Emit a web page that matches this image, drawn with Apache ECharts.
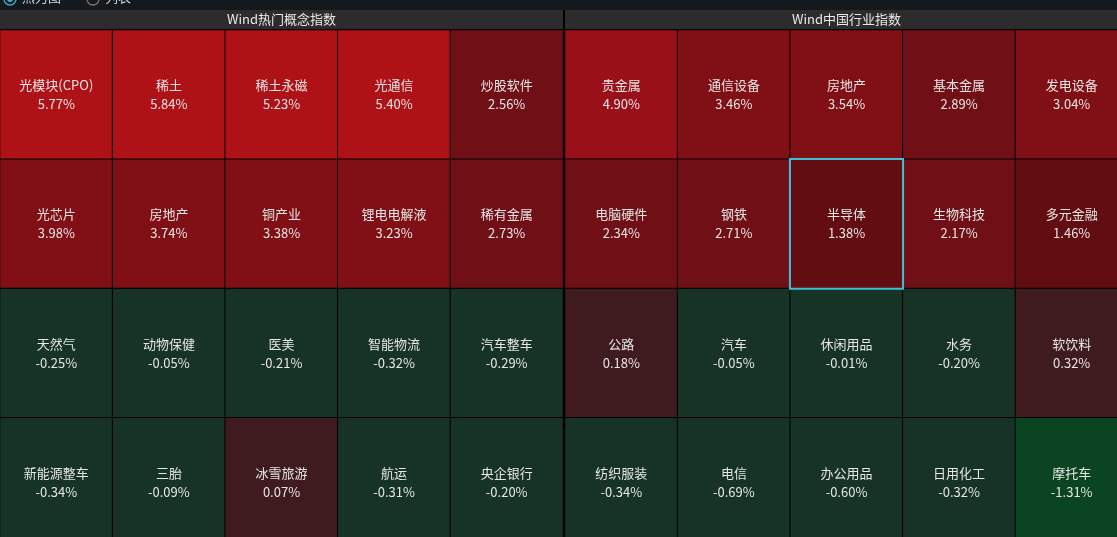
<!DOCTYPE html>
<html>
<head>
<meta charset="utf-8">
<style>
html,body{margin:0;padding:0;background:#000;overflow:hidden;width:1117px;height:537px;}
#c{width:1130px;height:550px;}
</style>
<script src="https://cdn.jsdelivr.net/npm/echarts@6/dist/echarts.min.js"></script>
</head>
<body>
<div id="c"></div>
<script>
const panelTitles = ['Wind热门概念指数', 'Wind中国行业指数'];
const conceptNames = [
  ['光模块(CPO)', '稀土', '稀土永磁', '光通信', '炒股软件'],
  ['光芯片', '房地产', '铜产业', '锂电电解液', '稀有金属'],
  ['天然气', '动物保健', '医美', '智能物流', '汽车整车'],
  ['新能源整车', '三胎', '冰雪旅游', '航运', '央企银行']
];
const conceptValues = [
  [5.77, 5.84, 5.23, 5.40, 2.56],
  [3.98, 3.74, 3.38, 3.23, 2.73],
  [-0.25, -0.05, -0.21, -0.32, -0.29],
  [-0.34, -0.09, 0.07, -0.31, -0.20]
];
const industryNames = [
  ['贵金属', '通信设备', '房地产', '基本金属', '发电设备'],
  ['电脑硬件', '钢铁', '半导体', '生物科技', '多元金融'],
  ['公路', '汽车', '休闲用品', '水务', '软饮料'],
  ['纺织服装', '电信', '办公用品', '日用化工', '摩托车']
];
const industryValues = [
  [4.90, 3.46, 3.54, 2.89, 3.04],
  [2.34, 2.71, 1.38, 2.17, 1.46],
  [0.18, -0.05, -0.01, -0.20, 0.32],
  [-0.34, -0.69, -0.60, -0.32, -1.31]
];
const selectedIndustry = '半导体';
const cols = ['0', '1', '2', '3', '4'];
const rows = ['0', '1', '2', '3'];

function buildData(names, values, selected) {
  const out = [];
  let sel = null;
  names.forEach((r, y) => r.forEach((n, x) => {
    const item = { value: [x, y, values[y][x], n] };
    if (n === selected) {
      item.itemStyle = { borderColor: '#3dbfd6', borderWidth: 2 };
      sel = item;
    } else out.push(item);
  }));
  if (sel) out.push(sel);
  return out;
}

const chart = echarts.init(document.getElementById('c'), null, { renderer: 'canvas' });
const font = '"Noto Sans CJK SC", "Microsoft YaHei", sans-serif';
const gridW = 563, gridH = 517, gridTop = 30;
const lefts = [0, 565];

const label = {
  show: true,
  color: '#e6e6e6',
  fontSize: 13,
  fontFamily: font,
  lineHeight: 19,
  formatter: p => p.data.value[3] + '\n' + p.data.value[2].toFixed(2) + '%'
};

const option = {
  backgroundColor: '#000',
  animation: false,
  grid: lefts.map(l => ({ left: l, top: gridTop, width: gridW, height: gridH, outerBoundsMode: 'none' })),
  xAxis: lefts.map((l, i) => ({ type: 'category', data: cols, gridIndex: i, show: false })),
  yAxis: lefts.map((l, i) => ({ type: 'category', data: rows, gridIndex: i, inverse: true, show: false })),
  visualMap: {
    type: 'piecewise',
    show: false,
    dimension: 2,
    seriesIndex: [0, 1],
    pieces: [
      { gte: 5, color: '#ae1217' },
      { gte: 4, lt: 5, color: '#9a1018' },
      { gte: 3, lt: 4, color: '#801015' },
      { gte: 2, lt: 3, color: '#701016' },
      { gte: 1, lt: 2, color: '#620d12' },
      { gte: 0, lt: 1, color: '#3f1a1f' },
      { gte: -1, lt: 0, color: '#173325' },
      { lt: -1, color: '#0a4420' }
    ]
  },
  series: [
    {
      type: 'heatmap', xAxisIndex: 0, yAxisIndex: 0,
      data: buildData(conceptNames, conceptValues, null),
      itemStyle: { borderColor: '#000', borderWidth: 1 },
      label: label, emphasis: { disabled: true }
    },
    {
      type: 'heatmap', xAxisIndex: 1, yAxisIndex: 1,
      data: buildData(industryNames, industryValues, selectedIndustry),
      itemStyle: { borderColor: '#000', borderWidth: 1 },
      label: label, emphasis: { disabled: true }
    }
  ],
  graphic: [
    { type: 'rect', shape: { x: 0, y: 0, width: 1130, height: 10 }, style: { fill: '#15181d' }, silent: true },
    { type: 'circle', shape: { cx: 10, cy: -1, r: 6 }, style: { fill: 'none', stroke: '#35b6cb', lineWidth: 1.3 } },
    { type: 'circle', shape: { cx: 10, cy: -1, r: 3 }, style: { fill: '#35b6cb' } },
    { type: 'text', x: 22, y: -3, style: { text: '热力图', fill: '#cfd3d8', font: '13px ' + font, textVerticalAlign: 'middle' } },
    { type: 'circle', shape: { cx: 93, cy: -1, r: 6 }, style: { fill: 'none', stroke: '#777', lineWidth: 1.3 } },
    { type: 'text', x: 105, y: -3, style: { text: '列表', fill: '#cfd3d8', font: '13px ' + font, textVerticalAlign: 'middle' } },
    ...lefts.map((l, i) => ({
      type: 'rect', shape: { x: l, y: 10, width: gridW, height: 19 }, style: { fill: '#2c2c2e' }, silent: true
    })),
    ...lefts.map((l, i) => ({
      type: 'text', x: l + gridW / 2, y: 19.5,
      style: { text: panelTitles[i], fill: '#e8e8e8', font: '13px ' + font, textAlign: 'center', textVerticalAlign: 'middle' }
    }))
  ]
};
chart.setOption(option);
</script>
</body>
</html>
